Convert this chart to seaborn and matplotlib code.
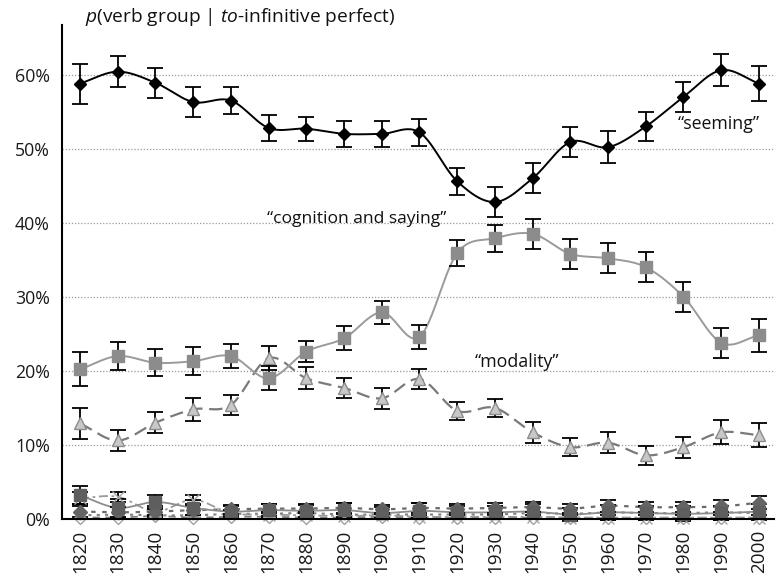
import numpy as np
import pandas as pd
import matplotlib
matplotlib.use("Agg")
import matplotlib.pyplot as plt
import seaborn as sns

# ---------------- data ----------------
decades = [1820, 1830, 1840, 1850, 1860, 1870, 1880, 1890, 1900, 1910,
           1920, 1930, 1940, 1950, 1960, 1970, 1980, 1990, 2000]

seeming = [58.8, 60.4, 58.9, 56.3, 56.5, 52.8, 52.7, 52.0, 52.0, 52.2,
           45.6, 42.8, 46.0, 50.9, 50.2, 53.0, 57.0, 60.6, 58.8]
seeming_err = [2.7, 2.1, 2.0, 2.0, 1.8, 1.8, 1.6, 1.8, 1.8, 1.8,
               1.8, 2.0, 2.0, 2.0, 2.2, 2.0, 2.0, 2.2, 2.4]

cognition = [20.2, 22.0, 21.1, 21.3, 22.0, 19.0, 22.6, 24.4, 27.9, 24.6,
             35.9, 37.9, 38.5, 35.8, 35.2, 34.0, 30.0, 23.8, 24.8]
cognition_err = [2.3, 1.9, 1.8, 1.9, 1.6, 1.6, 1.4, 1.6, 1.6, 1.6,
                 1.8, 1.8, 2.0, 2.0, 2.0, 2.0, 2.0, 2.0, 2.2]

modality = [12.9, 10.6, 13.0, 14.8, 15.4, 21.7, 19.0, 17.7, 16.3, 18.9,
            14.6, 15.0, 11.7, 9.7, 10.3, 8.6, 9.7, 11.7, 11.3]
modality_err = [2.1, 1.4, 1.4, 1.6, 1.4, 1.6, 1.5, 1.4, 1.4, 1.4,
                1.2, 1.2, 1.4, 1.2, 1.4, 1.3, 1.4, 1.6, 1.6]

minor_a = [3.2, 1.5, 2.3, 1.5, 1.0, 1.2, 1.1, 1.2, 0.8, 1.1,
           0.9, 0.9, 1.0, 0.6, 0.9, 0.8, 0.7, 0.8, 1.0]
minor_a_err = [1.2, 1.2, 1.0, 1.0, 0.8, 0.8, 0.8, 0.9, 0.8, 1.0,
               0.9, 0.9, 1.0, 0.9, 1.0, 1.0, 1.0, 1.0, 1.0]
minor_b = [2.8, 3.0, 1.0, 2.6, 0.8, 0.6, 0.5, 0.4, 0.5, 0.3,
           0.3, 0.3, 0.3, 0.2, 0.2, 0.2, 0.2, 0.2, 0.2]
minor_b_err = [0.8, 0.7, 0.5, 0.6, 0.4, 0.4, 0.4, 0.3, 0.3, 0.3,
               0.3, 0.3, 0.3, 0.3, 0.3, 0.3, 0.3, 0.3, 0.3]
minor_c = [0.2, 0.2, 0.4, 0.2, 0.3, 0.3, 0.2, 0.2, 0.3, 0.2,
           0.2, 0.2, 0.2, 0.2, 0.1, 0.1, 0.1, 0.1, 0.2]
minor_d = [1.0, 0.9, 1.0, 1.2, 1.3, 1.4, 1.4, 1.5, 1.3, 1.5,
           1.4, 1.5, 1.6, 1.4, 1.8, 1.6, 1.6, 1.7, 2.2]
minor_d_err = [0.7, 0.7, 0.7, 0.7, 0.6, 0.6, 0.6, 0.7, 0.6, 0.7,
               0.6, 0.7, 0.7, 0.6, 0.8, 0.7, 0.7, 0.8, 0.9]
minor_e = [0.5, 0.6, 0.5, 0.5, 0.7, 0.7, 0.8, 0.6, 0.6, 0.6,
           0.6, 0.6, 0.8, 0.7, 0.9, 0.8, 0.8, 0.9, 0.8]

y_ticks = [0, 10, 20, 30, 40, 50, 60]
title_text = r"$\mathit{p}$(verb group | $\mathit{to}$-infinitive perfect)"
label_seeming = "\u201cseeming\u201d"
label_cognition = "\u201ccognition and saying\u201d"
label_modality = "\u201cmodality\u201d"

# ---------------- style ----------------
sns.set_style("white")
plt.rcParams["font.family"] = ["Open Sans", "DejaVu Sans"]
plt.rcParams["mathtext.fontset"] = "custom"
plt.rcParams["mathtext.rm"] = "Open Sans"
plt.rcParams["mathtext.it"] = "Open Sans:italic"

fig = plt.figure(figsize=(7.76, 5.87), dpi=100)
ax = fig.add_axes([62.3 / 776, 1 - 519 / 587, (774 - 62.3) / 776, (519 - 25) / 587])

xi = np.arange(len(decades))


def smooth(x, y, n=24, tension=0.5):
    x = np.asarray(x, float)
    y = np.asarray(y, float)
    px = np.concatenate([[2 * x[0] - x[1]], x, [2 * x[-1] - x[-2]]])
    py = np.concatenate([[2 * y[0] - y[1]], y, [2 * y[-1] - y[-2]]])
    xs, ys = [], []
    for i in range(1, len(px) - 2):
        t = np.linspace(0, 1, n, endpoint=False)
        m1x = tension * (px[i + 1] - px[i - 1])
        m2x = tension * (px[i + 2] - px[i])
        m1y = tension * (py[i + 1] - py[i - 1])
        m2y = tension * (py[i + 2] - py[i])
        h00 = 2 * t**3 - 3 * t**2 + 1
        h10 = t**3 - 2 * t**2 + t
        h01 = -2 * t**3 + 3 * t**2
        h11 = t**3 - t**2
        xs.append(h00 * px[i] + h10 * m1x + h01 * px[i + 1] + h11 * m2x)
        ys.append(h00 * py[i] + h10 * m1y + h01 * py[i + 1] + h11 * m2y)
    xs.append([x[-1]])
    ys.append([y[-1]])
    return np.concatenate(xs), np.concatenate(ys)


def series(vals, err, line_color, ls, lw, marker, mfc, mec, ms, z, ecolor="black"):
    sx, sy = smooth(xi, vals)
    sns.lineplot(x=sx, y=sy, ax=ax, color=line_color, linestyle=ls, lw=lw,
                 sort=False, estimator=None, zorder=z)
    if err is not None:
        ax.errorbar(xi, vals, yerr=err, fmt="none", ecolor=ecolor, elinewidth=1.3,
                    capsize=5.5, capthick=1.3, zorder=z + 0.5, clip_on=False)
    ax.plot(xi, vals, linestyle="none", marker=marker, mfc=mfc, mec=mec, ms=ms,
            mew=1.0, zorder=z + 1, clip_on=False)


# minor series near zero
series(minor_c, None, "#808080", (0, (4, 3)), 1.3, "D", "white", "#a0a0a0", 6, 3)
series(minor_e, None, "#808080", (0, (1.5, 2.5)), 1.5, "o", "#8a8a8a", "#8a8a8a", 6, 3)
series(minor_b, minor_b_err, "#9a9a9a", (0, (5, 2, 1.5, 2)), 1.3, "x", "#a8a8a8", "#a8a8a8", 8, 3.2)
series(minor_d, minor_d_err, "#6a6a6a", (0, (2, 3)), 1.6, "D", "#646464", "#646464", 7, 3.4)
series(minor_a, minor_a_err, "#8c8c8c", "-", 1.3, "s", "#5e5e5e", "#5e5e5e", 9, 3.6)

# main series
series(modality, modality_err, "#7a7a7a", (0, (6, 3)), 1.6, "^", "#c8c8c8", "#8c8c8c", 9, 5)
series(cognition, cognition_err, "#9a9a9a", "-", 1.4, "s", "#8c8c8c", "#8c8c8c", 9, 6)
series(seeming, seeming_err, "black", "-", 1.4, "D", "black", "black", 6.5, 7)

# axes
ax.set_xlim(-0.47, 18.4)
ax.set_ylim(0, 66.7)
ax.set_yticks(y_ticks)
ax.set_yticklabels([f"{v}%" for v in y_ticks], fontsize=12.8, color="#1a1a1a")
ax.set_xticks(xi)
ax.set_xticklabels([str(d) for d in decades], rotation=90, fontsize=13.6, color="#1a1a1a")
ax.set_xticks(np.arange(0.5, len(decades) - 0.5, 1.0), minor=True)
ax.tick_params(axis="x", which="major", length=0, pad=8)
ax.tick_params(axis="x", which="minor", length=8, width=1.3, color="black", direction="out")
ax.tick_params(axis="y", which="major", length=6, width=1.3, color="black", direction="out", pad=3)

for yv in y_ticks[1:]:
    ax.axhline(yv, color="#9a9a9a", lw=0.9, ls=(0, (1, 1.5)), zorder=1)

for s in ["top", "right"]:
    ax.spines[s].set_visible(False)
for s in ["left", "bottom"]:
    ax.spines[s].set_color("black")
    ax.spines[s].set_linewidth(1.5)
ax.spines["bottom"].set_zorder(8)

# labels
ax.text(16.93, 53.3, label_seeming, ha="center", va="center", fontsize=12.8, color="#111111", zorder=10)
ax.text(7.33, 40.5, label_cognition, ha="center", va="center", fontsize=12.6, color="#111111", zorder=10)
ax.text(11.59, 21.2, label_modality, ha="center", va="center", fontsize=12.8, color="#111111", zorder=10)

fig.text(85 / 776, 1 - 17 / 587, title_text, ha="left", va="center", fontsize=13.8, color="#111111")

fig.savefig("out.png", dpi=100)
